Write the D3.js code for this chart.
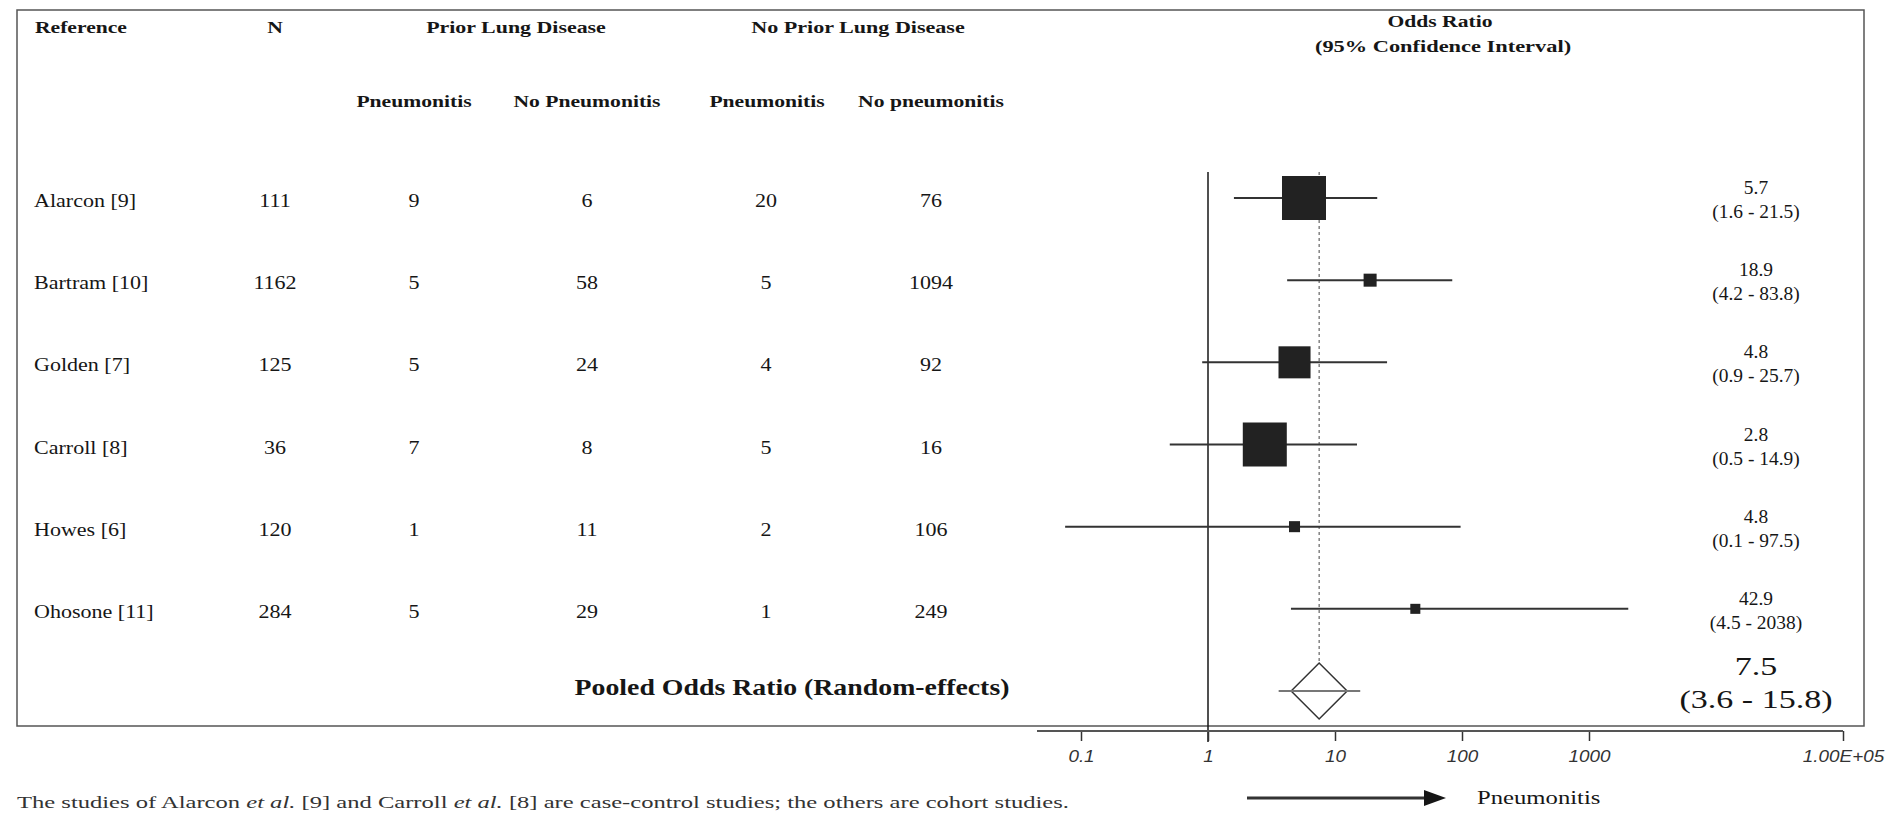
<!DOCTYPE html>
<html>
<head>
<meta charset="utf-8">
<script src="https://cdn.jsdelivr.net/npm/d3@7"></script>
<style>
  body { margin: 0; background: #fff; }
  svg { display: block; }
</style>
</head>
<body>
<svg id="chart" width="1894" height="813"></svg>
<script>
// values
var studies = ["Alarcon [9]", "Bartram [10]", "Golden [7]", "Carroll [8]", "Howes [6]", "Ohosone [11]"];
var nTotal = [111, 1162, 125, 36, 120, 284];
var priorPneu = [9, 5, 5, 7, 1, 5];
var priorNoPneu = [6, 58, 24, 8, 11, 29];
var noPriorPneu = [20, 5, 4, 5, 2, 1];
var noPriorNoPneu = [76, 1094, 92, 16, 106, 249];
var oddsRatio = [5.7, 18.9, 4.8, 2.8, 4.8, 42.9];
var ciLow = [1.6, 4.2, 0.9, 0.5, 0.075, 4.5];
var ciHigh = [21.5, 83.8, 25.7, 14.9, 97.5, 2038];
var weightPct = [36.6, 3.2, 19.4, 36.6, 2.3, 1.9];   // estimated from square sizes

var pooledOR = 7.5, pooledLow = 3.6, pooledHigh = 15.8;

var axisTicks = [0.1, 1, 10, 100, 1000, 100000];
var tickLabels = ["0.1", "1", "10", "100", "1000", "1.00E+05"];

var svg = d3.select("#chart");
var serif = "'Liberation Serif', 'Times New Roman', serif";
var sans = "'Liberation Sans', Arial, sans-serif";
var ink = "#161616";

// text helper; the original type is a bit stretched horizontally so scale x
function label(str, x, y, o) {
    o = o || {};
    var t = svg.append("text")
        .attr("transform", "translate(" + x + "," + y + ") scale(" + (o.sx || 1.16) + ",1)")
        .attr("text-anchor", o.anchor || "middle")
        .style("font-family", o.family || serif)
        .style("font-size", (o.size || 19) + "px")
        .style("font-weight", o.weight || "normal")
        .style("font-style", o.style || "normal")
        .attr("fill", o.fill || ink)
        .text(str);
    return t;
}

var x = d3.scaleLog().domain([0.1, 100000]).range([1081, 1843]);
var rowY = d3.scaleLinear().domain([0, studies.length]).range([198, 691]);
var side = d3.scaleSqrt().domain([0, d3.max(weightPct)]).range([0, 44]);

// frame
svg.append("rect")
    .attr("x", 17).attr("y", 10)
    .attr("width", 1847).attr("height", 716)
    .attr("fill", "none")
    .attr("stroke", "#555")
    .attr("stroke-width", 1.5);

// headers
var hd = {weight: "bold", size: 16, sx: 1.35};
label("Reference", 35, 33, Object.assign({anchor: "start"}, hd));
label("N", 275, 33, hd);
label("Prior Lung Disease", 516, 33, Object.assign({}, hd, {sx: 1.37}));
label("No Prior Lung Disease", 858, 33, Object.assign({}, hd, {sx: 1.38}));
label("Odds Ratio", 1440, 27, hd);
label("(95% Confidence Interval)", 1443, 52, Object.assign({}, hd, {sx: 1.4}));
label("Pneumonitis", 414, 107, hd);
label("No Pneumonitis", 587, 107, hd);
label("Pneumonitis", 767, 107, hd);
label("No pneumonitis", 931, 107, hd);

// table body
var cols = [
    {vals: nTotal, cx: 275},
    {vals: priorPneu, cx: 414},
    {vals: priorNoPneu, cx: 587},
    {vals: noPriorPneu, cx: 766},
    {vals: noPriorNoPneu, cx: 931}
];
studies.forEach(function(s, i) {
    var y = rowY(i) + 9;
    label(s, 34, y, {anchor: "start"});
    cols.forEach(function(c) { label(c.vals[i], c.cx, y); });
});

label("Pooled Odds Ratio (Random-effects)", 792, rowY(studies.length) + 4, {weight: "bold", size: 23, sx: 1.21});

// reference lines
svg.append("line")
    .attr("x1", x(1)).attr("x2", x(1))
    .attr("y1", 172).attr("y2", 742)
    .attr("stroke", ink).attr("stroke-width", 1.5);

svg.append("line")
    .attr("x1", x(pooledOR)).attr("x2", x(pooledOR))
    .attr("y1", 172).attr("y2", rowY(studies.length) - 28)
    .attr("stroke", "#444").attr("stroke-width", 1)
    .attr("stroke-dasharray", "3,3");

// study estimates
var g = svg.append("g");
studies.forEach(function(s, i) {
    var y = rowY(i);
    g.append("line")
        .attr("x1", x(ciLow[i])).attr("x2", x(ciHigh[i]))
        .attr("y1", y).attr("y2", y)
        .attr("stroke", "#333").attr("stroke-width", 2);
    var w = side(weightPct[i]);
    g.append("rect")
        .attr("x", x(oddsRatio[i]) - w / 2).attr("y", y - w / 2)
        .attr("width", w).attr("height", w)
        .attr("fill", "#222");
});

// pooled diamond
var py = rowY(studies.length), px = x(pooledOR), dh = 28;
svg.append("path")
    .attr("d", "M" + (px - dh) + "," + py + "L" + px + "," + (py - dh) + "L" + (px + dh) + "," + py + "L" + px + "," + (py + dh) + "Z")
    .attr("fill", "#fff").attr("stroke", "#333").attr("stroke-width", 1.5);
svg.append("line")
    .attr("x1", x(pooledLow)).attr("x2", x(pooledHigh))
    .attr("y1", py).attr("y2", py)
    .attr("stroke", "#777").attr("stroke-width", 2);

// OR text on the right
function fmt(v) { return v >= 1000 ? String(Math.round(v)) : v.toFixed(1); }
studies.forEach(function(s, i) {
    var y = rowY(i);
    label(oddsRatio[i].toFixed(1), 1756, y - 4, {size: 18, sx: 1.08});
    label("(" + fmt(ciLow[i]) + " - " + fmt(ciHigh[i]) + ")", 1756, y + 20, {size: 18, sx: 1.08});
});
label(pooledOR.toFixed(1), 1756, py - 16, {size: 25, sx: 1.36});
label("(" + fmt(pooledLow) + " - " + fmt(pooledHigh) + ")", 1756, py + 17, {size: 25, sx: 1.36});

// log axis
var axisG = svg.append("g")
    .attr("transform", "translate(0,731)")
    .call(d3.axisBottom(x)
        .tickValues(axisTicks)
        .tickFormat(function(d, i) { return tickLabels[i]; })
        .tickSize(10)
        .tickSizeOuter(0));
axisG.select(".domain").remove();
axisG.append("line")
    .attr("x1", x(0.1) - 44).attr("x2", x(100000))
    .attr("stroke", "#555").attr("stroke-width", 2);
axisG.selectAll(".tick line").attr("stroke", "#333").attr("stroke-width", 1.5);
axisG.selectAll(".tick text")
    .attr("y", 20)
    .attr("transform", "scale(1.18,1)")
    .attr("fill", "#333")
    .style("font-family", sans)
    .style("font-size", "16px")
    .style("font-style", "italic");

// direction arrow
var ay = 798;
svg.append("line")
    .attr("x1", 1247).attr("x2", 1426)
    .attr("y1", ay).attr("y2", ay)
    .attr("stroke", "#333").attr("stroke-width", 3);
svg.append("path")
    .attr("d", "M1424," + (ay - 8) + "L1446," + ay + "L1424," + (ay + 8) + "Z")
    .attr("fill", ink);
label("Pneumonitis", 1477, ay + 6, {anchor: "start", size: 19, sx: 1.3});

// footnote
var note = svg.append("text")
    .attr("x", 17).attr("y", 808)
    .attr("textLength", 1052).attr("lengthAdjust", "spacingAndGlyphs")
    .style("font-family", serif).style("font-size", "16px")
    .attr("fill", "#333");
note.append("tspan").text("The studies of Alarcon ");
note.append("tspan").style("font-style", "italic").text("et al.");
note.append("tspan").text(" [9] and Carroll ");
note.append("tspan").style("font-style", "italic").text("et al.");
note.append("tspan").text(" [8] are case-control studies; the others are cohort studies.");
</script>
</body>
</html>
